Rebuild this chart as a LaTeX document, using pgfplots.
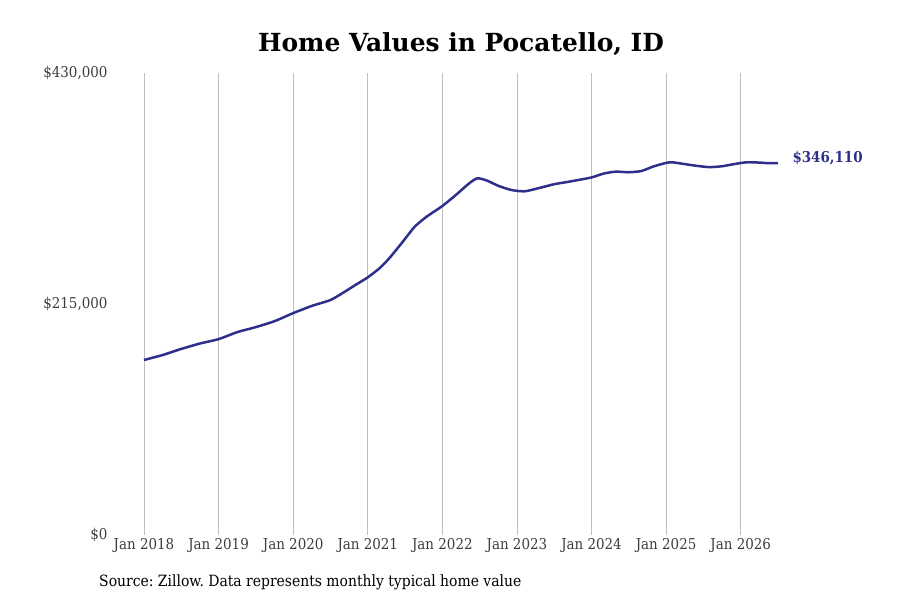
\documentclass[border=0pt]{standalone}
\usepackage{pgfplots}
\pgfplotsset{compat=1.18}
\usepackage{fontspec}
\setmainfont{DejaVu Serif Condensed}
\newfontfamily\titlefont{DejaVu Serif}
\definecolor{linec}{RGB}{46,46,139}
\definecolor{gridc}{RGB}{190,190,190}
\definecolor{tickc}{RGB}{60,60,60}
\frenchspacing
\begin{document}
\begin{tikzpicture}[x=1bp,y=1bp]
\useasboundingbox (0,0) rectangle (900,600);
\node[font=\titlefont\bfseries\fontsize{25}{30}\selectfont, anchor=center] at (461,556) {Home Values in Pocatello, ID};
\node[font=\fontsize{15.55}{18}\selectfont, anchor=west] at (95.7,18) {Source: Zillow. Data represents monthly typical home value};
\begin{axis}[
  at={(144bp,65bp)}, anchor=south west,
  scale only axis, width=634bp, height=462bp,
  xmin=2018, xmax=2026.5, ymin=0, ymax=430000,
  clip=false,
  axis line style={draw=none},
  major tick length=0pt,
  scaled ticks=false,
  xtick={2018,2019,2020,2021,2022,2023,2024,2025,2026},
  xticklabels={Jan 2018,Jan 2019,Jan 2020,Jan 2021,Jan 2022,Jan 2023,Jan 2024,Jan 2025,Jan 2026},
  ytick={0,215000,430000},
  yticklabels={{\$0},{\$215,000},{\$430,000}},
  xmajorgrids, grid style={gridc, line width=0.7bp},
  ticklabel style={font=\fontsize{15}{18}\selectfont, text=tickc},
  yticklabel style={xshift=-33bp},
  xticklabel style={yshift=0bp},
]
\addplot[linec, line width=2.5bp, smooth, tension=0.4] coordinates {
(2018.00,162900) (2018.25,167500) (2018.50,173200) (2018.75,178200)
(2019.00,182300) (2019.25,188800) (2019.50,193500) (2019.75,199000)
(2020.00,206500) (2020.25,213200) (2020.50,218700) (2020.67,225500)
(2020.83,232500) (2021.00,239800) (2021.17,249000) (2021.30,258500)
(2021.47,273000) (2021.63,287000) (2021.79,296300) (2022.00,306200)
(2022.18,316400) (2022.36,327300) (2022.47,332000) (2022.60,329800)
(2022.75,325000) (2022.90,321500) (2023.00,320300) (2023.12,320000)
(2023.33,323500) (2023.50,326500) (2023.67,328500) (2023.83,330500)
(2024.00,332800) (2024.17,336500) (2024.33,338200) (2024.50,337600)
(2024.67,338800) (2024.83,343000) (2025.00,346300) (2025.08,346900)
(2025.25,345200) (2025.42,343500) (2025.58,342400) (2025.75,343200)
(2025.92,345300) (2026.08,346900) (2026.25,346600) (2026.38,346000)
(2026.50,346110)
};
\node[anchor=west, font=\bfseries\fontsize{15}{18}\selectfont, text=linec] at (axis cs:2026.5,346110) [xshift=11bp, yshift=5bp] {\$346,110};
\end{axis}
\end{tikzpicture}
\end{document}
